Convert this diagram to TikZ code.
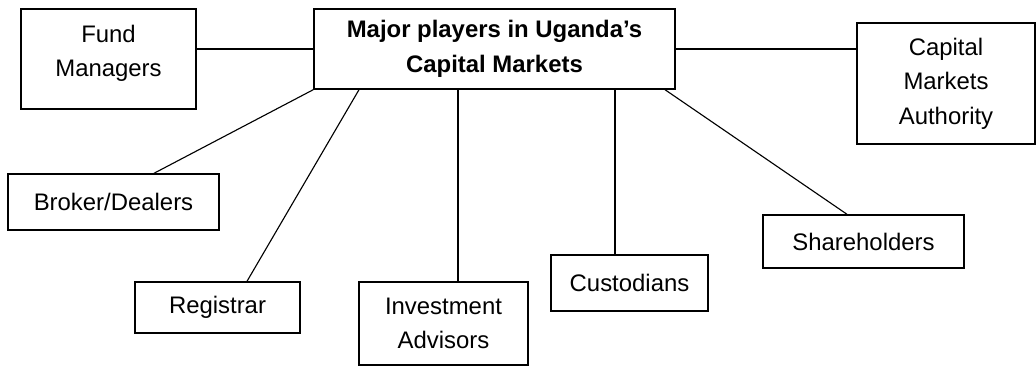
\documentclass[tikz,border=0pt]{standalone}
\usepackage{fontspec}
\setmainfont{Liberation Sans}
\usepackage{tikz}

\begin{document}
\begin{tikzpicture}[
        x=0.025cm, y=-0.025cm,
        line width=0.8pt,
        every node/.style={draw, line width=1pt, align=center, inner sep=2pt,
            font=\fontsize{17}{24.5}\selectfont}
    ]
    \useasboundingbox (0,0) rectangle (1036,366);

    % Centre box
    \node[minimum width=9.025cm, minimum height=2cm, font=\fontsize{17}{24.5}\selectfont\bfseries]
        (major) at (494.5,49) {Major players in Uganda's\\Capital Markets};

    % Players round the centre
    \node[minimum width=4.375cm, minimum height=2.5cm, text depth=0.42cm] (fund) at (108.5,59) {Fund\\Managers};
    \node[minimum width=4.45cm, minimum height=3.025cm] (cma) at (946,83.5) {Capital\\Markets\\Authority};
    \node[minimum width=5.275cm, minimum height=1.4cm] (broker) at (113.5,202) {Broker/Dealers};
    \node[minimum width=4.125cm, minimum height=1.275cm] (registrar) at (217.5,307.5) {Registrar};
    \node[minimum width=4.225cm, minimum height=2.075cm] (advisors) at (443.5,323.5) {Investment\\Advisors};
    \node[minimum width=3.925cm, minimum height=1.4cm] (custodians) at (629.5,283) {Custodians};
    \node[minimum width=5.025cm, minimum height=1.325cm] (shareholders) at (863.5,241.5) {Shareholders};

    % Links to the centre box
    \draw (major.west) -- (major.west -| fund.east);
    \draw (major.east) -- (major.east -| cma.west);
    \draw (major.south west) -- (broker.north -| 154,0);
    \draw (major.south -| 359,0) -- (registrar.north -| 247,0);
    \draw (major.south -| 458,0) -- (advisors.north -| 458,0);
    \draw (major.south -| 615,0) -- (custodians.north -| 615,0);
    \draw (major.south -| 665,0) -- (shareholders.north -| 847,0);

\end{tikzpicture}
\end{document}
